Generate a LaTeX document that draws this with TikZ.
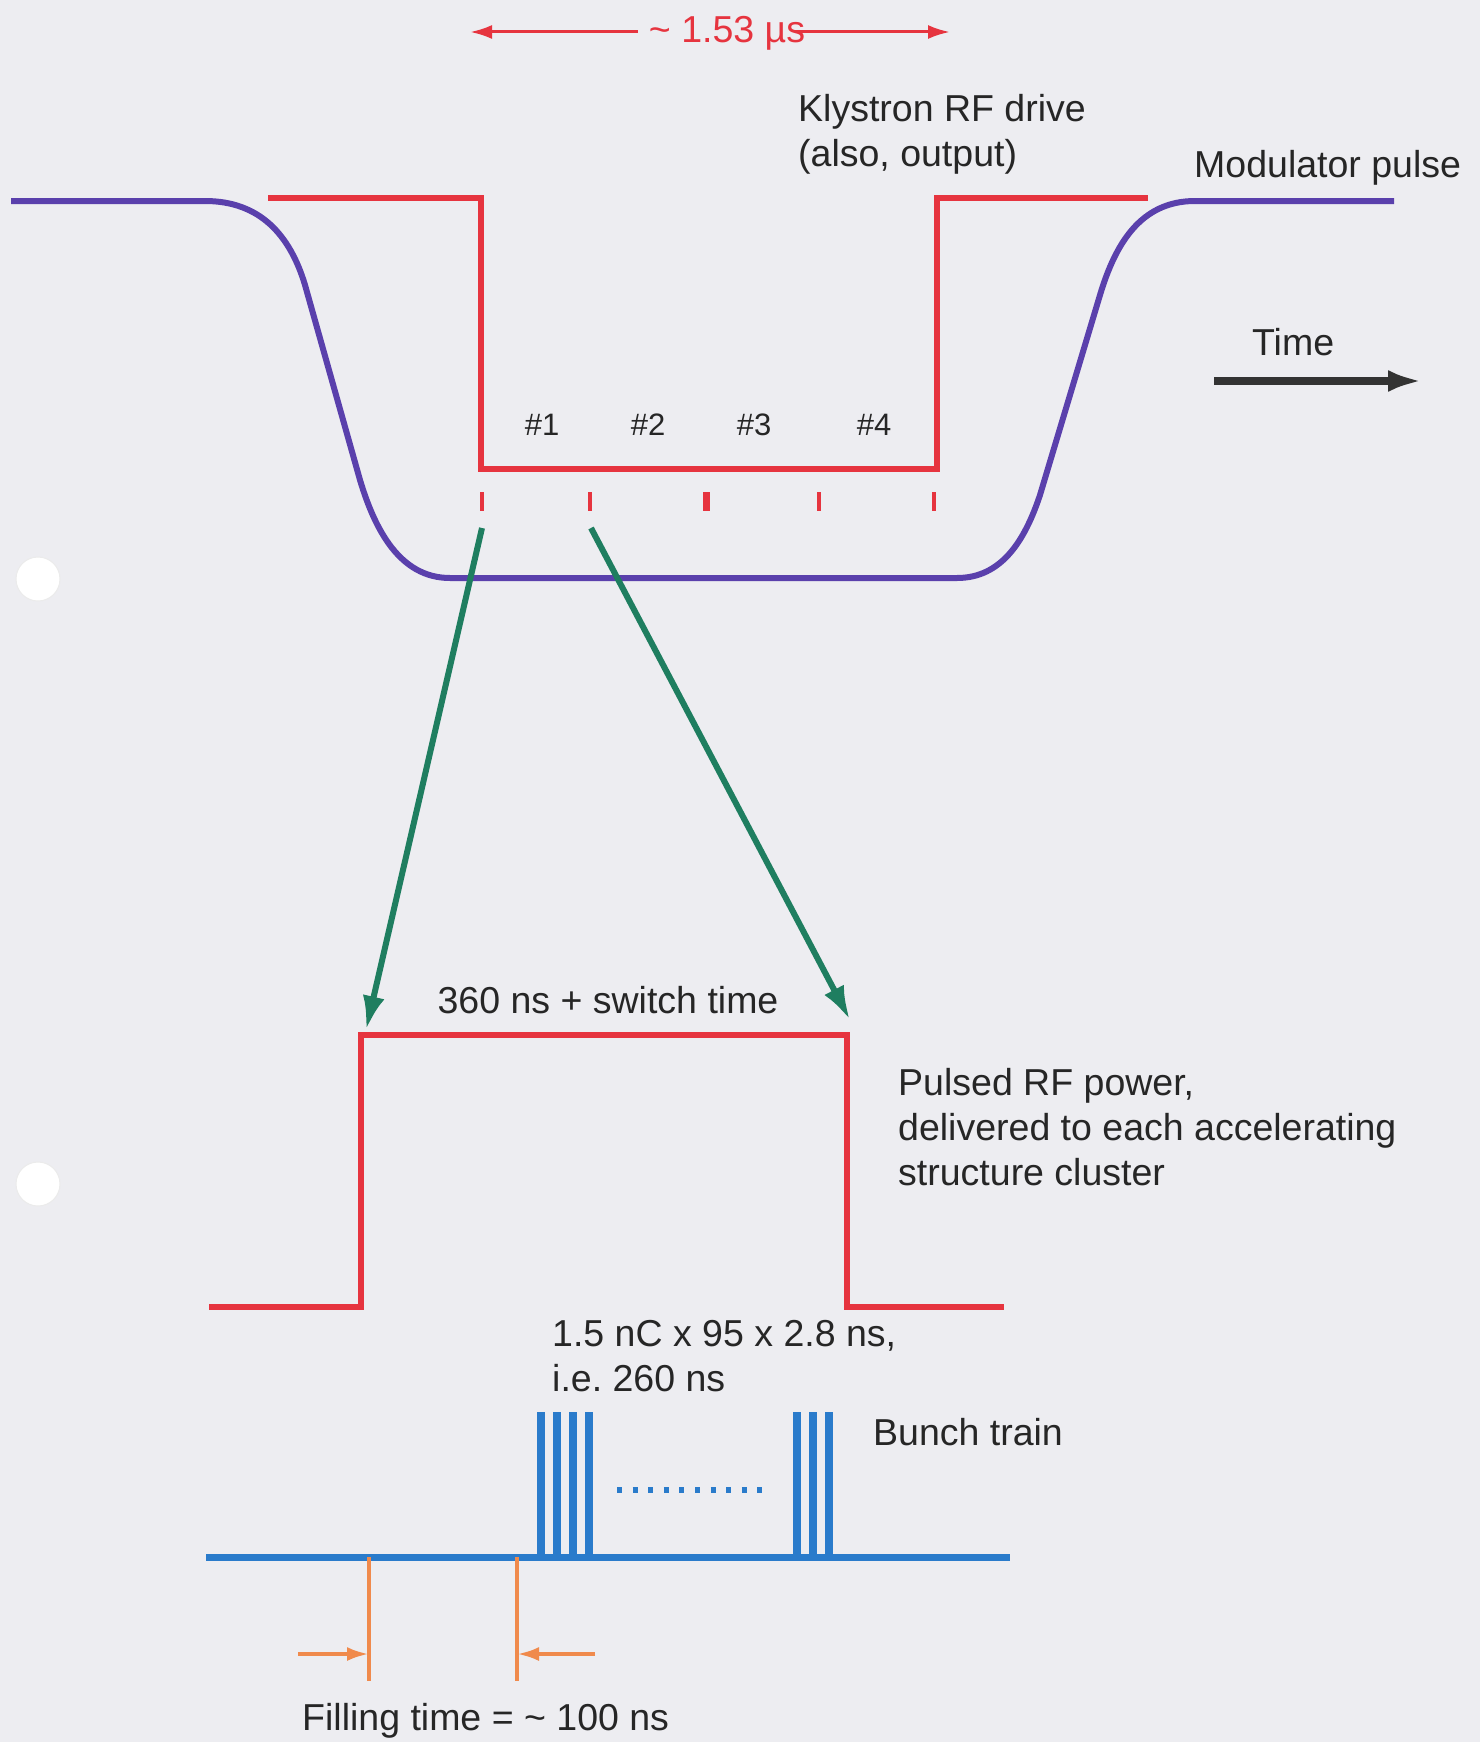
\documentclass[tikz,border=0pt]{standalone}
\usepackage{fontspec}
\setmainfont{Liberation Sans}
\usetikzlibrary{arrows.meta}
\definecolor{bg}{HTML}{EDEDF1}
\definecolor{modviolet}{HTML}{5A40AC}
\definecolor{rfred}{HTML}{E6343F}
\definecolor{linkgreen}{HTML}{1F7E60}
\definecolor{bunchblue}{HTML}{2A7BCB}
\definecolor{fillorange}{HTML}{F08A4C}
\definecolor{txtgray}{HTML}{262626}
\definecolor{arrowgray}{HTML}{333333}
\tikzset{
  txt/.style={font=\fontsize{37.5}{45}\selectfont, text=txtgray, inner sep=0pt, align=left},
  numlbl/.style={font=\fontsize{31}{33}\selectfont, text=txtgray, inner sep=0pt},
  modline/.style={draw=modviolet, line width=6pt, line join=round},
  rfline/.style={draw=rfred, line width=6pt, line join=miter},
  tickmark/.style={draw=rfred, line width=4pt},
  linkarrow/.style={draw=linkgreen, line width=6pt, -{Latex[length=34pt,width=22pt]}},
  durarrow/.style={draw=rfred, line width=3pt, -{Latex[length=22pt,width=14pt]}},
  timearrow/.style={draw=arrowgray, line width=8pt, -{Latex[length=34pt,width=22pt]}},
  bunchline/.style={draw=bunchblue, line width=7.5pt},
  fillmark/.style={draw=fillorange, line width=4pt},
  fillarrow/.style={draw=fillorange, line width=4pt, -{Latex[length=22pt,width=14pt]}},
  hole/.style={fill=white, draw=black!8, line width=1pt}
}
\begin{document}
\begin{tikzpicture}[x=1pt,y=-1pt]
\fill[bg] (0,0) rectangle (1480,1742);
\useasboundingbox (0,0) rectangle (1480,1742);

% binder holes
\path[hole] (38,579) circle[radius=22];
\path[hole] (38,1184) circle[radius=22];

% duration arrow
\node[txt, anchor=base, text=rfred] (dur) at (727,43) {\textasciitilde\ 1.53 µs};
\coordinate (durL) at (470,32);
\coordinate (durR) at (950,32);
\draw[durarrow, shorten <=11pt] (dur.west |- durL) -- (durL);
\draw[durarrow, shorten <=-10pt] (dur.east |- durR) -- (durR);

% modulator pulse
\draw[modline] (11,201) -- (205,201)
  .. controls (260,201) and (290,235) .. (305,285)
  -- (360,480)
  .. controls (375,530) and (400,578) .. (450,578)
  -- (957,578)
  .. controls (1002,578) and (1025,540) .. (1040,495)
  -- (1100,295)
  .. controls (1115,245) and (1140,201) .. (1195,201)
  -- (1394,201);

% klystron RF drive
\draw[rfline] (268,198) -- (481,198) -- (481,469) -- (937,469) -- (937,198) -- (1148,198);

% ticks
\coordinate (t1) at (482,528);
\coordinate (t2) at (591,528);
\draw[tickmark] (482,492) -- (482,511);
\draw[tickmark] (590,492) -- (590,511);
\draw[tickmark, line width=7pt] (706,492) -- (706,511);
\draw[tickmark] (819,492) -- (819,511);
\draw[tickmark] (934,492) -- (934,511);

% cluster labels
\node[numlbl, anchor=base] (n1) at (542,435) {\#1};
\node[numlbl, anchor=base] (n2) at (648,435) {\#2};
\node[numlbl, anchor=base] (n3) at (754,435) {\#3};
\node[numlbl, anchor=base] (n4) at (874,435) {\#4};

% labels top (base anchor = last line baseline)
\node[txt, anchor=base west] (kly) at (798,166) {Klystron RF drive\\(also, output)};
\node[txt, anchor=base west] (mod) at (1194,177) {Modulator pulse};
\node[txt, anchor=base west] (time) at (1252,355) {Time};
\coordinate (timeS) at (1214,381);
\coordinate (timeE) at (1422,381);
\draw[timearrow] (timeS) -- (timeE);

% pulsed RF power
\coordinate (pL) at (366,1030);
\coordinate (pR) at (850,1020);
\draw[rfline] (209,1307) -- (361,1307) -- (361,1035) -- (847,1035) -- (847,1307) -- (1004,1307);
\node[txt, anchor=base] (sw) at (608,1013) {360 ns + switch time};
\node[txt, anchor=base west] (prf) at (898,1185) {Pulsed RF power,\\delivered to each accelerating\\structure cluster};

% green zoom arrows
\draw[linkarrow] (t1) -- (pL);
\draw[linkarrow] (t2) -- (pR);

% bunch train
\draw[bunchline, line width=7pt] (206,1557) -- (1010,1557);
\foreach \x in {541,557,573,589} \draw[bunchline] (\x,1557) -- (\x,1412);
\foreach \x in {797,813,829} \draw[bunchline] (\x,1557) -- (\x,1412);
\draw[draw=bunchblue, line width=6pt, dash pattern=on 5pt off 10.6pt] (617,1490) -- (770,1490);
\node[txt, anchor=base west] (bun) at (552,1391) {1.5 nC x 95 x 2.8 ns,\\i.e.\ 260 ns};
\node[txt, anchor=base west] (btr) at (873,1445) {Bunch train};

% filling time
\draw[fillmark] (369,1557) -- (369,1681);
\draw[fillmark] (517,1557) -- (517,1681);
\coordinate (fa) at (298,1654);
\coordinate (fb) at (369,1654);
\coordinate (fc) at (595,1654);
\coordinate (fd) at (517,1654);
\draw[fillarrow] (fa) -- (fb);
\draw[fillarrow] (fc) -- (fd);
\node[txt, anchor=base west] (fill) at (302,1730) {Filling time = \textasciitilde\ 100 ns};
\end{tikzpicture}
\end{document}
